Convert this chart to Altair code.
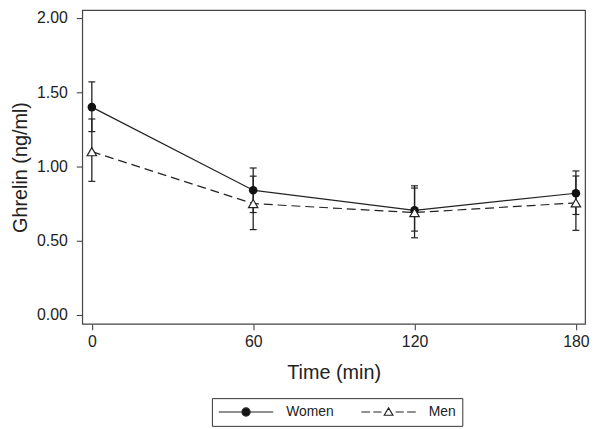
import altair as alt
import pandas as pd

# ---- data ----
time = [0, 60, 120, 180]
groups = ["Women", "Men"]
women_mean = [1.40, 0.84, 0.705, 0.82]
women_lo = [1.235, 0.69, 0.565, 0.677]
women_hi = [1.57, 0.99, 0.87, 0.97]
men_mean = [1.10, 0.75, 0.69, 0.755]
men_lo = [0.90, 0.575, 0.52, 0.57]
men_hi = [1.32, 0.935, 0.855, 0.936]

x_ticks = [0, 60, 120, 180]
y_ticks = [0.0, 0.5, 1.0, 1.5, 2.0]

rows = []
for g, m, lo, hi in [("Women", women_mean, women_lo, women_hi),
                     ("Men", men_mean, men_lo, men_hi)]:
    for t, a, b, c in zip(time, m, lo, hi):
        rows.append({"time": t, "group": g, "mean": a, "lo": b, "hi": c})
df = pd.DataFrame(rows)

INK = "#222222"
FONT = "Liberation Sans"

x = alt.X("time:Q",
          scale=alt.Scale(domain=[-3.57, 183.4], nice=False, zero=False),
          axis=alt.Axis(values=x_ticks, title="Time (min)", format="d"))
y_scale = alt.Scale(domain=[-0.06, 2.053], nice=False, zero=False)
y = alt.Y("mean:Q", scale=y_scale,
          axis=alt.Axis(values=y_ticks, format=".2f", title="Ghrelin (ng/ml)"))

base = alt.Chart(df)

women_line = base.transform_filter(alt.datum.group == "Women").mark_line(
    color=INK, strokeWidth=1.2).encode(x=x, y=y)
men_line = base.transform_filter(alt.datum.group == "Men").mark_line(
    color=INK, strokeWidth=1.2, strokeDash=[9, 5]).encode(x=x, y=y)

err = base.mark_rule(color=INK, strokeWidth=1.3).encode(
    x=x, y=alt.Y("lo:Q", scale=y_scale), y2="hi:Q")
cap_lo = base.mark_tick(color=INK, orient="horizontal", size=7, thickness=1.2,
                        opacity=1).encode(x=x, y=alt.Y("lo:Q", scale=y_scale))
cap_hi = base.mark_tick(color=INK, orient="horizontal", size=7, thickness=1.2,
                        opacity=1).encode(x=x, y=alt.Y("hi:Q", scale=y_scale))

women_pts = base.transform_filter(alt.datum.group == "Women").mark_point(
    shape="circle", filled=True, color="#111111", size=75, opacity=1).encode(x=x, y=y)
men_pts = base.transform_filter(alt.datum.group == "Men").mark_point(
    shape="triangle-up", fill="white", stroke=INK, strokeWidth=1.2, size=90,
    opacity=1).encode(x=x, y=y)

# legend symbols: line + marker drawn as custom symbol paths
women_sym = "M-1,0L1,0M-0.15,0A0.15,0.15,0,1,1,0.15,0A0.15,0.15,0,1,1,-0.15,0Z"
men_sym = ("M-1,0L-0.68,0M-0.56,0L-0.26,0M0.26,0L0.56,0M0.68,0L1,0"
           "M-0.16,0.12L0,-0.15L0.16,0.12Z")

leg = alt.Legend(title=None, orient="none", direction="horizontal",
                 legendX=131, legendY=392, symbolSize=3025, clipHeight=16,
                 labelOffset=12, columnPadding=27, padding=6,
                 strokeColor="#333333", symbolStrokeColor=INK, symbolStrokeWidth=1.2,
                 labelFontSize=14, labelFont=FONT, labelColor="#222222")

legend_layer = base.mark_point(filled=True, size=0, stroke=INK, strokeWidth=1.2,
                               opacity=1).encode(
    x=x, y=y,
    color=alt.Color("group:N", scale=alt.Scale(domain=groups, range=["#111111", "white"]),
                    legend=leg),
    shape=alt.Shape("group:N", scale=alt.Scale(domain=groups, range=[women_sym, men_sym]),
                    legend=leg),
)

chart = alt.layer(women_line, men_line, err, cap_lo, cap_hi, women_pts, men_pts,
                  legend_layer).properties(
    width=508, height=317,
    autosize=alt.AutoSizeParams(type="none"),
    padding={"left": 75, "top": 0, "right": 5, "bottom": 103},
).configure_view(stroke="#444444", strokeWidth=1.2).configure_axis(
    domain=False, grid=False, tickColor="#444444", tickWidth=1.1, tickSize=6,
    labelFont=FONT, labelFontSize=16, labelColor="#222222",
    titleFont=FONT, titleFontSize=20, titleFontWeight="normal", titleColor="#222222",
).configure_axisX(labelPadding=4, titlePadding=13).configure_axisY(
    labelPadding=9, titlePadding=6)

chart.save("out.html", embed_options={"renderer": "svg", "actions": False})
